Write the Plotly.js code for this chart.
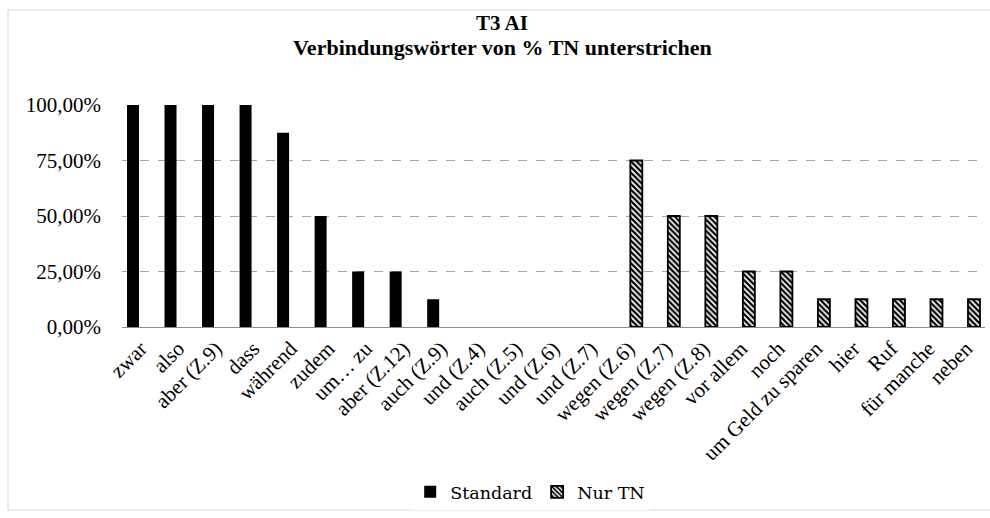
<!DOCTYPE html>
<html>
<head>
<meta charset="utf-8">
<script src="https://cdn.plot.ly/plotly-3.0.1.min.js"></script>
<style>html,body{margin:0;padding:0;background:#fff;}#chart{width:990px;height:518px;}</style>
</head>
<body>
<div id="chart"></div>
<script>
const categories = ["zwar","also","aber (Z.9)","dass","während","zudem","um… zu","aber (Z.12)","auch (Z.9)","und (Z.4)","auch (Z.5)","und (Z.6)","und (Z.7)","wegen (Z.6)","wegen (Z.7)","wegen (Z.8)","vor allem","noch","um Geld zu sparen","hier","Ruf","für manche","neben"];
const standard = [1,1,1,1,0.875,0.5,0.25,0.25,0.125,0,0,0,0,null,null,null,null,null,null,null,null,null,null];
const nurTN = [null,null,null,null,null,null,null,null,null,null,null,null,null,0.75,0.5,0.5,0.25,0.25,0.125,0.125,0.125,0.125,0.125];
const yTicks = [0,0.25,0.5,0.75,1];
const titleLine1 = "T3 AI";
const titleLine2 = "Verbindungswörter von % TN unterstrichen";

const serif = "Liberation Serif, Times New Roman, serif";
const traces = [
  {type:"bar", name:"Standard", x:categories, y:standard,
   marker:{color:"#000000", line:{color:"#000000", width:0}}, hoverinfo:"skip"},
  {type:"bar", name:"Nur TN", x:categories, y:nurTN,
   marker:{color:"#ffffff", line:{color:"#000000", width:1.8},
     pattern:{shape:"\\", fgcolor:"#000000", bgcolor:"#ffffff", size:4, solidity:0.55}},
   hoverinfo:"skip"}
];
const layout = {
  width:990, height:518,
  margin:{l:122, r:5, t:105, b:191},
  paper_bgcolor:"#ffffff", plot_bgcolor:"#ffffff",
  separators:",.",
  barmode:"group", bargap:0.173, bargroupgap:0.226,
  title:{text:"<b>"+titleLine1+"</b>",
    font:{family:serif, size:21, color:"#000"}, xref:"container", x:0.507, xanchor:"center",
    yref:"container", y:1-23/518, yanchor:"middle"},
  annotations:[{text:"<b>"+titleLine2+"</b>", xref:"paper", yref:"paper",
    x:(502-122)/863, y:(327-47)/222, xanchor:"center", yanchor:"middle", showarrow:false,
    font:{family:serif, size:22, color:"#000"}}],
  xaxis:{type:"category", tickangle:-45, showline:true, linecolor:"#8c8c8c", linewidth:1,
    ticks:"", showgrid:false, tickfont:{family:serif, size:21, color:"#000"}, fixedrange:true},
  yaxis:{range:[0,1], tickvals:yTicks, tickformat:".2%", showgrid:true, gridcolor:"#a6a6a6",
    griddash:"dash", gridwidth:1, zeroline:false, showline:false, ticks:"", ticklabelstandoff:20,
    tickfont:{family:serif, size:21, color:"#000"}, fixedrange:true},
  showlegend:true,
  legend:{orientation:"h", x:0.473, xanchor:"center", y:-0.743, yanchor:"middle",
    font:{family:"DejaVu Serif, serif", size:17.5, color:"#000"}, itemwidth:30, traceorder:"normal"},
  shapes:[{type:"rect", xref:"paper", yref:"paper", x0:-114/863, x1:1.02, y0:-(510-327)/222, y1:(327-10)/222,
    line:{color:"#d9d9d9", width:1}, fillcolor:"rgba(0,0,0,0)", layer:"below"}]
};
Plotly.newPlot("chart", traces, layout, {staticPlot:true, displayModeBar:false});
</script>
</body>
</html>
